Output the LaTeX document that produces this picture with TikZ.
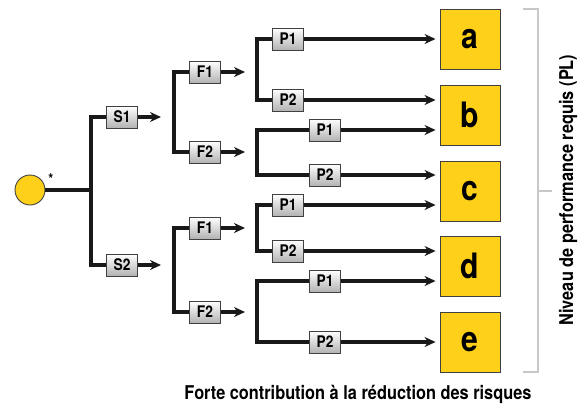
\documentclass[tikz,border=0pt]{standalone}
\usepackage{fontspec}
\setmainfont{texgyreheros}[Extension=.otf,UprightFont=*-bold,BoldFont=*-bold,FakeStretch=0.86]
\usetikzlibrary{positioning,arrows.meta}
\definecolor{plyellow}{RGB}{254,208,25}
\definecolor{bracketgray}{RGB}{200,200,200}
\tikzset{
 cbox/.style={draw=black!75,line width=0.9pt,top color=white,bottom color=black!30,minimum width=31pt,minimum height=22pt,inner sep=0pt,font=\fontsize{16}{16}\selectfont},
 plbox/.style={draw=black!75,line width=0.9pt,fill=plyellow,minimum size=60pt,inner sep=0pt,font=\fontsize{35}{35}\selectfont},
 tree/.style={line width=3.2pt,black!90},
}
\begin{document}
\begin{tikzpicture}[x=1pt,y=-1pt,>={Stealth[length=11pt,width=10pt]}]
 \useasboundingbox (0,0) rectangle (586,405); %全体の枠
 \node[circle,draw=black!75,line width=0.9pt,fill=plyellow,minimum size=30pt,inner sep=0pt] (root) at (30,190) {}; %始点
 \node[font=\fontsize{15}{15}\selectfont,inner sep=0pt] (star) at (51,179) {*}; %星印
 \node[cbox] (S1) at (122,117) {S1};
 \node[cbox] (S2) at (122,265) {S2};
 \node[cbox] (S1F1) at (205,72) {F1};
 \node[cbox] (S1F2) at (205,152) {F2};
 \node[cbox] (S2F1) at (205,228) {F1};
 \node[cbox] (S2F2) at (205,312) {F2};
 \node[cbox] (S1F1P1) at (288,39) {P1};
 \node[cbox] (S1F1P2) at (288,100) {P2};
 \node[cbox] (S1F2P1) at (325,130) {P1};
 \node[cbox] (S1F2P2) at (325,175) {P2};
 \node[cbox] (S2F1P1) at (288,205) {P1};
 \node[cbox] (S2F1P2) at (288,251) {P2};
 \node[cbox] (S2F2P1) at (325,281) {P1};
 \node[cbox] (S2F2P2) at (325,342) {P2};
 \node[plbox] (a) at (470,39) {a}; %PL a
 \node[plbox] (b) at (470,115) {b}; %PL b
 \node[plbox] (c) at (470,191) {c}; %PL c
 \node[plbox] (d) at (470,266) {d}; %PL d
 \node[plbox] (e) at (470,342) {e}; %PL e
 \coordinate (J0) at (91,190); %分岐S
 \coordinate (JS1) at (174,117); %分岐F（S1）
 \coordinate (JS2) at (174,265); %分岐F（S2）
 \coordinate (JS1F1) at (257,72); %分岐P
 \coordinate (JS1F2) at (257,152);
 \coordinate (JS2F1) at (257,228);
 \coordinate (JS2F2) at (257,312);
 \coordinate (S1end) at (161,117); %矢印の先
 \coordinate (S2end) at (161,265);
 \coordinate (S1F1end) at (245,72);
 \coordinate (S1F2end) at (245,152);
 \coordinate (S2F1end) at (245,228);
 \coordinate (S2F2end) at (245,312);
 \draw[tree] (root) -- (J0);
 \draw[tree] (S1.west) -| (J0) |- (S2.west);
 \draw[tree,->] (S1) -- (S1end);
 \draw[tree,->] (S2) -- (S2end);
 \draw[tree] (S1F1.west) -| (JS1) |- (S1F2.west);
 \draw[tree] (S2F1.west) -| (JS2) |- (S2F2.west);
 \draw[tree,->] (S1F1) -- (S1F1end);
 \draw[tree,->] (S1F2) -- (S1F2end);
 \draw[tree,->] (S2F1) -- (S2F1end);
 \draw[tree,->] (S2F2) -- (S2F2end);
 \draw[tree] (S1F1P1.west) -| (JS1F1) |- (S1F1P2.west);
 \draw[tree] (S1F2P1.west) -| (JS1F2) |- (S1F2P2.west);
 \draw[tree] (S2F1P1.west) -| (JS2F1) |- (S2F1P2.west);
 \draw[tree] (S2F2P1.west) -| (JS2F2) |- (S2F2P2.west);
 \draw[tree,->,shorten >=4pt] (S1F1P1) -- (S1F1P1 -| a.west); %→a
 \draw[tree,->,shorten >=4pt] (S1F1P2) -- (S1F1P2 -| b.west); %→b
 \draw[tree,->,shorten >=4pt] (S1F2P1) -- (S1F2P1 -| b.west); %→b
 \draw[tree,->,shorten >=4pt] (S1F2P2) -- (S1F2P2 -| c.west); %→c
 \draw[tree,->,shorten >=4pt] (S2F1P1) -- (S2F1P1 -| c.west); %→c
 \draw[tree,->,shorten >=4pt] (S2F1P2) -- (S2F1P2 -| d.west); %→d
 \draw[tree,->,shorten >=4pt] (S2F2P1) -- (S2F2P1 -| d.west); %→d
 \draw[tree,->,shorten >=4pt] (S2F2P2) -- (S2F2P2 -| e.west); %→e
 \draw[bracketgray,line width=2.5pt] (523,9) -- (538,9) -- (538,372) -- (523,372); %括弧
 \draw[bracketgray,line width=2.5pt] (538,191) -- (552,191);
 \node[rotate=90,font=\fontsize{19}{19}\selectfont] (plname) at (568,190) {Niveau de performance requis (PL)}; %縦の文字
 \node[font=\fontsize{19}{19}\selectfont] (title) at (358,394) {Forte contribution à la réduction des risques}; %下の文字
\end{tikzpicture}
\end{document}
